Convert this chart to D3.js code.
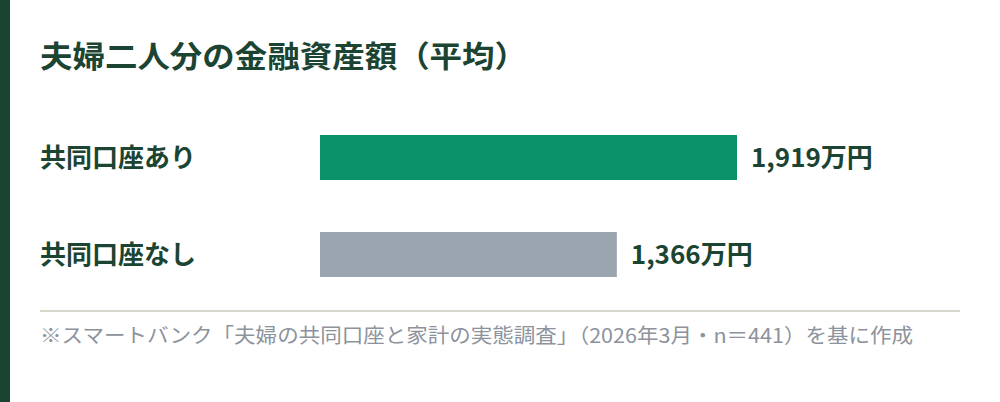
<!DOCTYPE html>
<html lang="ja">
<head>
<meta charset="utf-8">
<title>夫婦二人分の金融資産額</title>
<script src="https://cdn.jsdelivr.net/npm/d3@7"></script>
<style>
body { margin: 0; background: #fff; }
svg { display: block; font-family: "Noto Sans CJK JP", "Noto Sans", sans-serif; }
</style>
</head>
<body>
<script>
var categories = ["共同口座あり", "共同口座なし"];
var values = [1919, 1366];
var valueLabels = ["1,919万円", "1,366万円"];
var barColors = ["#0b9168", "#9ba5b0"];

var width = 1000, height = 402;
var ink = "#1b4433";

var svg = d3.select("body").append("svg")
    .attr("width", width).attr("height", height);

// left accent strip
svg.append("rect").attr("x", 0).attr("y", 0).attr("width", 10).attr("height", height).attr("fill", "#1b4332");

svg.append("text")
    .attr("x", 40).attr("y", 67)
    .attr("font-size", 30).attr("font-weight", 700).attr("fill", ink)
    .attr("textLength", 487).attr("lengthAdjust", "spacingAndGlyphs")
    .text("夫婦二人分の金融資産額（平均）");

var x = d3.scaleLinear().domain([0, 1919]).range([320, 737]);
var y = d3.scaleBand().domain(categories).range([135, 277]).paddingInner(0.536).paddingOuter(0);

var rows = svg.selectAll("g.row").data(categories).enter().append("g").attr("class", "row");

rows.append("rect")
    .attr("x", x(0))
    .attr("y", function(d) { return y(d); })
    .attr("width", function(d, i) { return x(values[i]) - x(0); })
    .attr("height", y.bandwidth())
    .attr("fill", function(d, i) { return barColors[i]; });

rows.append("text")
    .attr("x", 40)
    .attr("y", function(d) { return y(d) + y.bandwidth() / 2; })
    .attr("dy", "0.36em")
    .attr("font-size", 26).attr("font-weight", 700).attr("fill", ink)
    .text(function(d) { return d; });

rows.append("text")
    .attr("x", function(d, i) { return x(values[i]) + 14; })
    .attr("y", function(d) { return y(d) + y.bandwidth() / 2; })
    .attr("dy", "0.36em")
    .attr("font-size", 26).attr("font-weight", 700).attr("fill", ink)
    .text(function(d, i) { return valueLabels[i]; });

svg.append("line")
    .attr("x1", 40).attr("x2", 960).attr("y1", 311).attr("y2", 311)
    .attr("stroke", "#d9d7cb").attr("stroke-width", 2);

svg.append("text")
    .attr("x", 40).attr("y", 343)
    .attr("font-size", 20).attr("fill", "#8c939c")
    .attr("textLength", 873).attr("lengthAdjust", "spacingAndGlyphs")
    .text("※スマートバンク「夫婦の共同口座と家計の実態調査」（2026年3月・n＝441）を基に作成");
</script>
</body>
</html>
